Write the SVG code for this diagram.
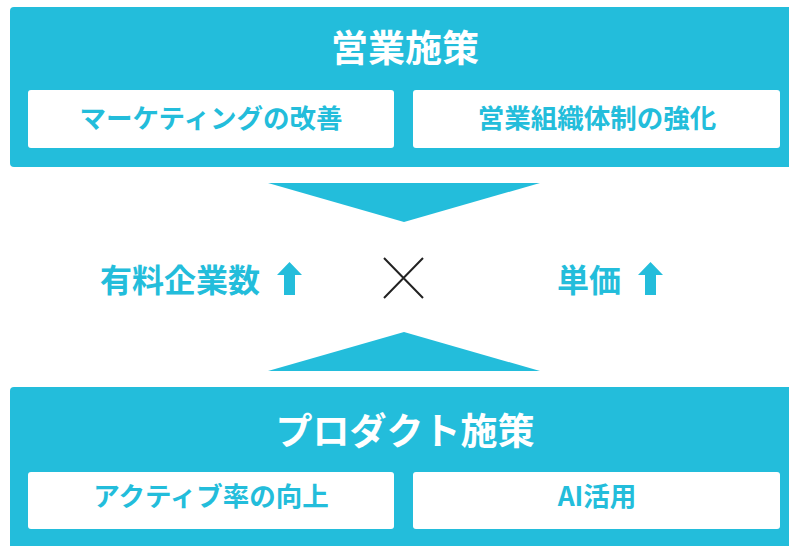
<svg xmlns="http://www.w3.org/2000/svg" width="789" height="546" viewBox="0 0 789 546">
<style>
.panel{fill:#23bddb}
.card{fill:#ffffff}
.title{font-family:"Noto Sans CJK JP","Noto Sans",sans-serif;font-weight:700;font-size:37px;fill:#ffffff;text-anchor:middle}
.sub{font-family:"Noto Sans CJK JP","Noto Sans",sans-serif;font-weight:700;font-size:26.5px;fill:#23bddb;text-anchor:middle}
.mid{font-family:"Noto Sans CJK JP","Noto Sans",sans-serif;font-weight:700;font-size:32px;fill:#23bddb;text-anchor:middle}
.tri{fill:#23bddb}
.up{fill:#23bddb}
</style>
<rect width="789" height="546" fill="#ffffff"/>
<g id="sales">
<rect class="panel" x="10" y="7" width="790" height="160" rx="4"/>
<text class="title" x="405" y="62">営業施策</text>
</g>
<g id="marketing">
<rect class="card" x="28" y="90" width="366" height="58" rx="3"/>
<text class="sub" x="211" y="128">マーケティングの改善</text>
</g>
<g id="sales-org">
<rect class="card" x="413" y="90" width="367" height="58" rx="3"/>
<text class="sub" x="597" y="128">営業組織体制の強化</text>
</g>
<g id="product">
<rect class="panel" x="10" y="387" width="790" height="170" rx="4"/>
<text class="title" x="405" y="445">プロダクト施策</text>
</g>
<g id="active">
<rect class="card" x="28" y="472" width="366" height="57" rx="3"/>
<text class="sub" x="211" y="506">アクティブ率の向上</text>
</g>
<g id="ai">
<rect class="card" x="413" y="472" width="367" height="57" rx="3"/>
<text class="sub" x="597" y="506">AI活用</text>
</g>
<g id="paid-companies">
<text class="mid" x="180" y="292">有料企業数</text>
<path class="up" d="M289.5,262 L302,275 L295,275 L295,295 L284,295 L284,275 L277,275 Z"/>
</g>
<g id="unit-price">
<text class="mid" x="589" y="292">単価</text>
<path class="up" d="M650.5,262 L663,275 L656,275 L656,295 L645,295 L645,275 L638,275 Z"/>
</g>
<g id="connectors">
<polygon class="tri" points="268,183 540,183 404,222"/>
<polygon class="tri" points="268,371 540,371 404,332"/>
<path d="M384,258 L423,298 M423,258 L384,298" stroke="#222222" stroke-width="2" fill="none"/>
</g>
</svg>
